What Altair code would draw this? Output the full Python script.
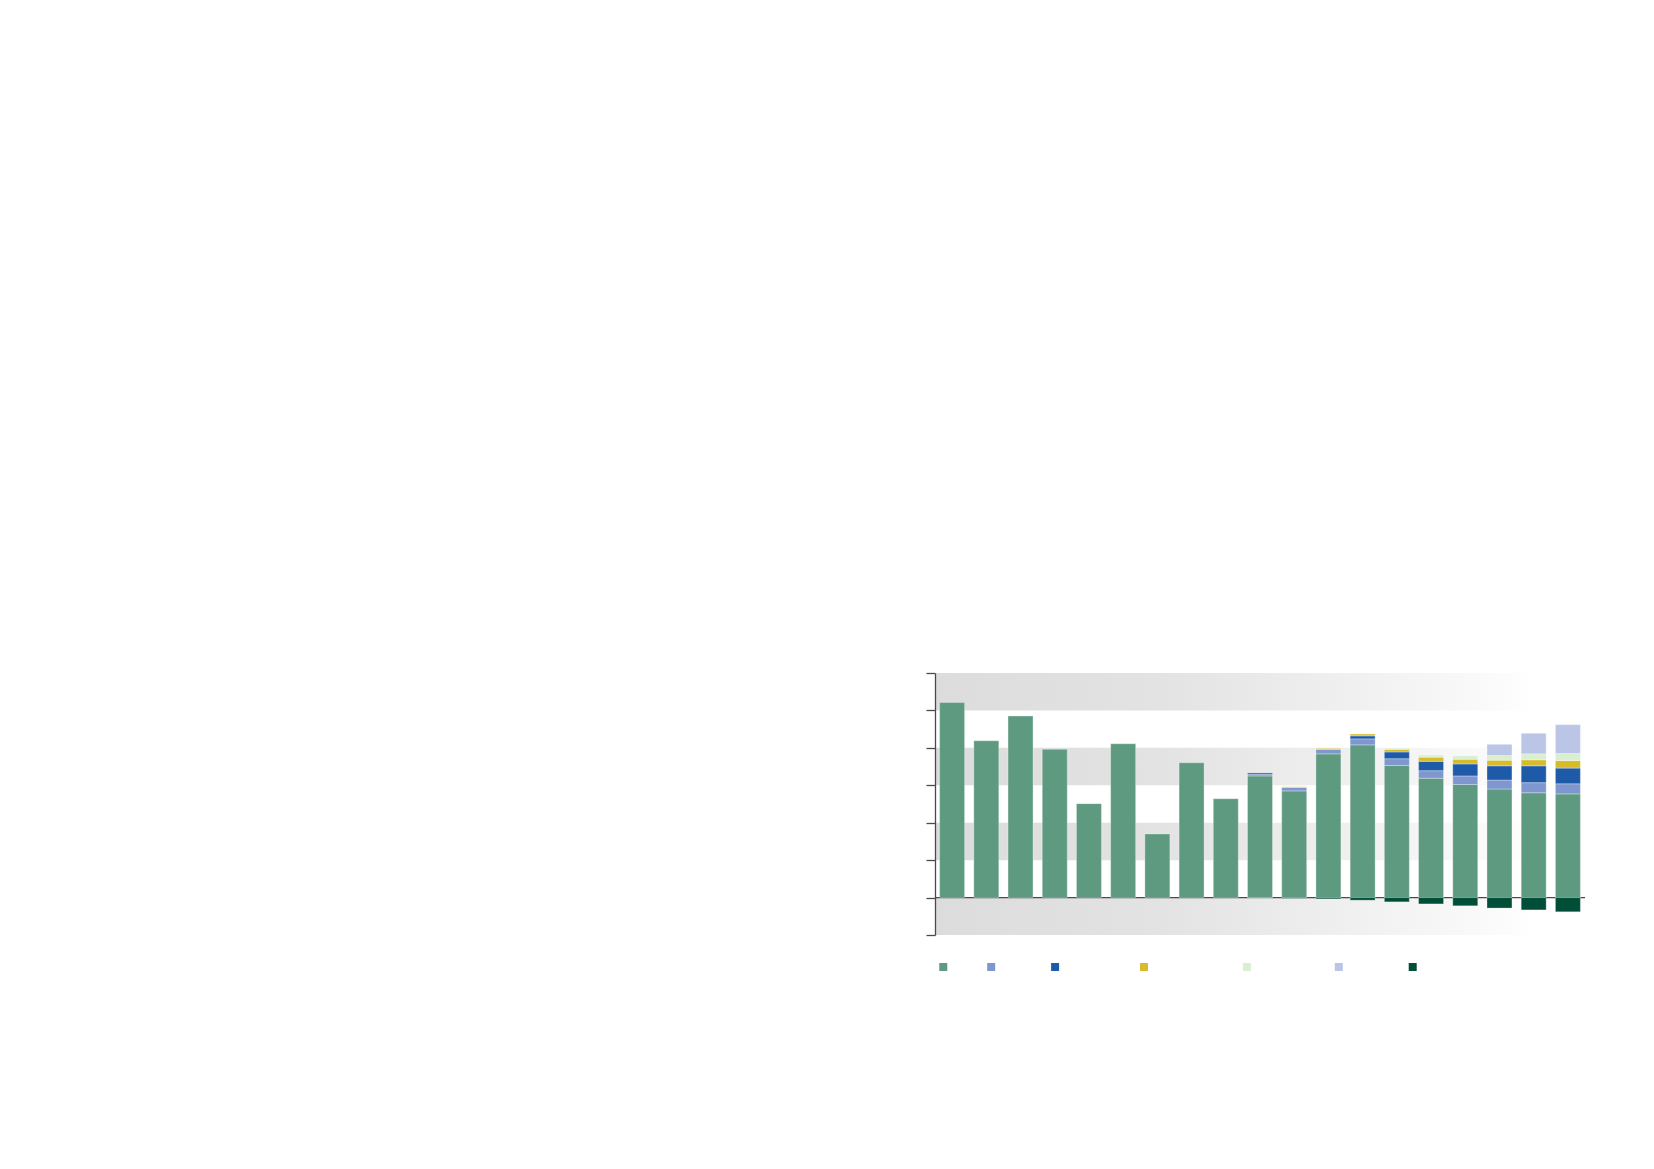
import altair as alt
import pandas as pd

# ---- data (units: one axis step = 10) ----
periods = [f"P{i:02d}" for i in range(1, 20)]

series_names = ["Lignite", "Black coal", "Gas-fired plants", "Solar photovoltaics",
                "Biogas and wind", "New nuclear", "Net exports"]
series_colors = ["#5e9a80", "#7f97cf", "#1d5aa7", "#d8bb2a", "#d9efd0", "#bbc6e7", "#004d38"]

lignite = [52.1, 41.9, 48.5, 39.6, 25.1, 41.1, 17.0, 36.0, 26.4, 32.5,
           28.5, 38.4, 40.8, 35.3, 31.9, 30.2, 29.0, 28.0, 27.7]
black_coal = [0, 0, 0, 0, 0, 0, 0, 0, 0, 0.45,
              0.9, 1.15, 1.6, 1.8, 2.0, 2.3, 2.4, 2.7, 2.7]
gas = [0, 0, 0, 0, 0, 0, 0, 0, 0, 0.35,
       0, 0, 0.8, 1.8, 2.5, 3.2, 3.8, 4.5, 4.2]
solar = [0, 0, 0, 0, 0, 0, 0, 0, 0, 0,
         0.2, 0.3, 0.5, 0.7, 1.1, 1.25, 1.5, 1.6, 2.0]
biogas_wind = [0, 0, 0, 0, 0, 0, 0, 0, 0, 0,
               0, 0, 0, 0.3, 0.6, 0.9, 1.25, 1.6, 1.9]
nuclear = [0, 0, 0, 0, 0, 0, 0, 0, 0, 0,
           0, 0, 0, 0, 0, 0, 3.0, 5.5, 7.7]
exports = [0, 0, 0, 0, 0, 0, 0, 0, 0, -0.1,
           -0.2, -0.35, -0.7, -1.15, -1.7, -2.2, -2.8, -3.3, -3.8]

axis_values = [-10, 0, 10, 20, 30, 40, 50, 60]
band_low = [50, 30, 10, -10]
band_high = [60, 40, 20, 0]

# ---- tables ----
all_series = [lignite, black_coal, gas, solar, biogas_wind, nuclear, exports]
rows = []
for idx, (name, vals) in enumerate(zip(series_names, all_series)):
    for p, v in zip(periods, vals):
        if v != 0:
            rows.append({"period": p, "series": name, "value": v, "idx": idx})
bars_df = pd.DataFrame(rows)
bands_df = pd.DataFrame({"lo": band_low, "hi": band_high})
zero_df = pd.DataFrame({"v": [0]})

yscale = alt.Scale(domain=[axis_values[0], axis_values[-1]], nice=False)
yaxis = alt.Axis(values=axis_values, labels=False, title=None, grid=False,
                 ticks=True, tickSize=9, tickWidth=1.3, tickColor="#4a4a4a",
                 domainColor="#4a4a4a", domainWidth=1.3, zindex=2)

band_gradient = alt.Gradient(
    gradient="linear", x1=0, x2=1, y1=0, y2=0,
    stops=[alt.GradientStop(color="#dcdcdc", offset=0),
           alt.GradientStop(color="#e3e3e3", offset=0.35),
           alt.GradientStop(color="#eeeeee", offset=0.6),
           alt.GradientStop(color="#fafafa", offset=0.85),
           alt.GradientStop(color="#ffffff", offset=0.92),
           alt.GradientStop(color="#ffffff", offset=1)])

bands = alt.Chart(bands_df).mark_rect(color=band_gradient).encode(
    y=alt.Y("lo:Q", scale=yscale, axis=yaxis),
    y2="hi:Q",
)

zero_line = alt.Chart(zero_df).mark_rule(color="#4a4a4a", strokeWidth=1.3).encode(
    y=alt.Y("v:Q", scale=yscale, axis=yaxis),
)

bars = alt.Chart(bars_df).mark_bar(stroke="#ffffff", strokeWidth=0.6, strokeOpacity=0.5).encode(
    x=alt.X("period:N", sort=periods, axis=None,
            scale=alt.Scale(paddingInner=0.27, paddingOuter=0.135)),
    y=alt.Y("value:Q", stack="zero", scale=yscale, axis=yaxis),
    color=alt.Color("series:N",
                    scale=alt.Scale(domain=series_names, range=series_colors),
                    legend=alt.Legend(orient="none", legendX=3.3, legendY=289,
                                      direction="horizontal", columns=7, title=None,
                                      symbolType="square", symbolSize=64,
                                      symbolStrokeWidth=0, labelOpacity=0,
                                      labelFont="Liberation Sans", labelFontSize=10,
                                      labelOffset=4, columnPadding=3.9, padding=0,
                                      labelLimit=300)),
    order=alt.Order("idx:Q"),
)

chart = alt.layer(bands, zero_line, bars).properties(
    width=650, height=262,
    padding={"left": 927, "top": 665, "right": 20, "bottom": 80},
    autosize=alt.AutoSizeParams(type="none"),
    background="#ffffff",
).configure_view(stroke=None)

chart.save("out.html", embed_options={"renderer": "svg", "actions": False})
